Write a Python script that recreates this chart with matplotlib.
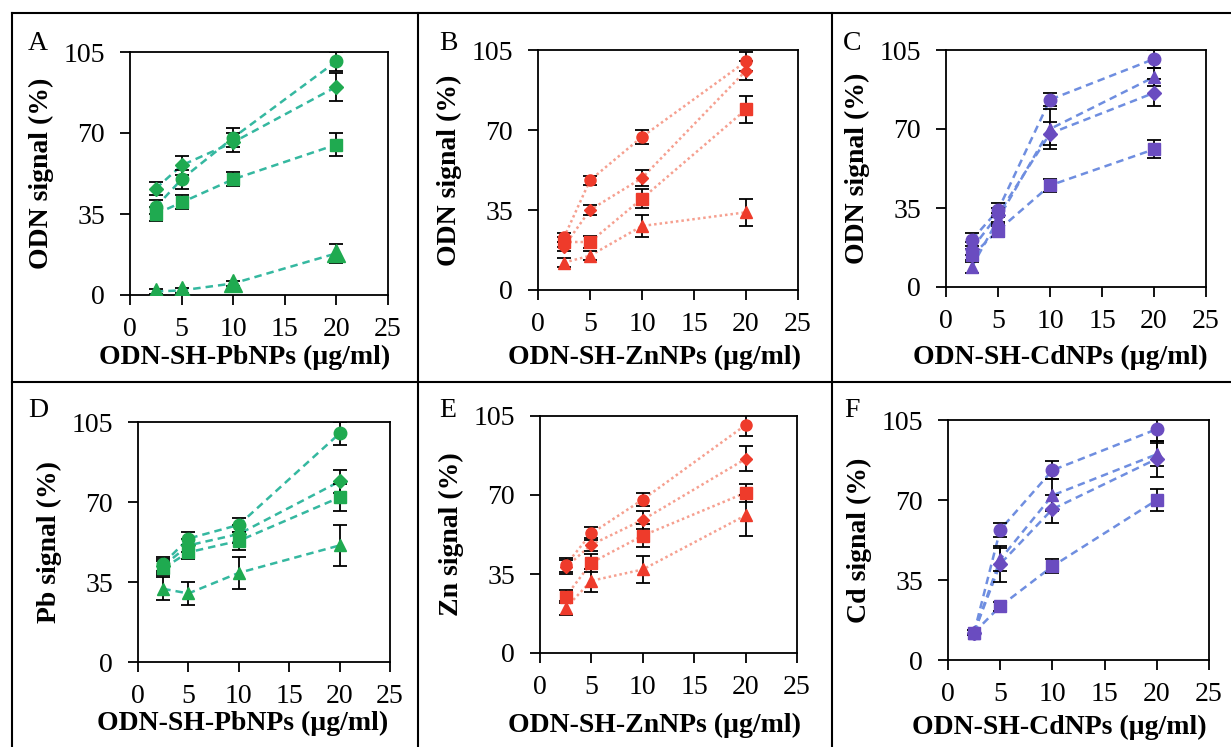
import matplotlib
matplotlib.use("Agg")
import matplotlib.pyplot as plt
from matplotlib.lines import Line2D

plt.rcParams['font.family'] = ['Liberation Serif', 'DejaVu Serif']

x = [2.5, 5, 10, 20]
markers = ['o', 'D', 's', '^']

# values per series: circle, diamond, square, triangle
a_vals = [[38, 50, 68, 101], [46, 56, 66, 90], [35, 40, 50, 65], [1.5, 2, 5, 18]]
a_errs = [[3, 4, 4, 4], [3, 4, 4, 6], [3, 3, 3, 5], [1, 1, 1, 4]]
b_vals = [[23, 48, 67, 100], [19, 35, 49, 96], [21, 21, 40, 79], [12, 15, 28, 34]]
b_errs = [[2, 2, 3, 4], [2, 2, 3.5, 4], [2, 2.5, 4, 6], [2, 2, 5, 6]]
c_vals = [[21, 34, 83, 101], [17, 32, 68, 86], [14, 25, 45, 61], [9, 30, 70, 93]]
c_errs = [[3, 3, 3, 4], [3, 3, 5, 6], [3, 3, 3, 4], [3, 3, 9, 4]]
d_vals = [[43, 54, 60, 100], [42, 51, 56, 79], [41, 48, 53, 72], [32, 30, 39, 51]]
d_errs = [[3, 3, 3, 5], [3, 3, 4, 5], [3, 3, 4, 6], [5, 5, 7, 9]]
e_vals = [[39, 53, 68, 101], [38, 48, 59, 86], [25, 40, 52, 71], [20, 32, 37, 61]]
e_errs = [[3, 3, 3, 5], [3, 3, 4, 5.5], [3, 4, 5, 4], [3, 5, 6, 9]]
f_vals = [[12, 57, 83, 101], [12, 42, 66, 88], [12, 23.5, 41, 70], [12, 44, 72, 90]]
f_errs = [[1, 3, 4, 5], [1, 8, 6, 8], [1, 2, 3, 5], [1, 5, 7, 5]]

xlabels = ['ODN-SH-PbNPs (µg/ml)', 'ODN-SH-ZnNPs (µg/ml)', 'ODN-SH-CdNPs (µg/ml)']
ylabels = ['ODN signal (%)', 'ODN signal (%)', 'ODN signal (%)',
           'Pb signal (%)', 'Zn signal (%)', 'Cd signal (%)']
letters = ['A', 'B', 'C', 'D', 'E', 'F']

green = ('#1faa50', '#35b8a0', (0, (3, 2)))
red = ('#ee3b2b', '#f6a090', (0, (1, 1.2)))
purple = ('#6a4cc0', '#6f8ee0', (0, (3, 2)))

W, H = 1231, 747
fig = plt.figure(figsize=(W / 100, H / 100), dpi=100)

# axes boxes in pixels: left, right, top, bottom
boxes = [(130, 388, 52, 295), (538, 798, 50, 290), (946, 1206, 50, 287),
         (138, 390, 422, 662), (540, 797, 416, 653), (948, 1209, 420, 660)]
# x label centres in pixels
xlab_pos = [(245, 357), (655, 357), (1060, 357), (243, 723), (654, 725), (1059, 727)]
panels = [(a_vals, a_errs, green), (b_vals, b_errs, red), (c_vals, c_errs, purple),
          (d_vals, d_errs, green), (e_vals, e_errs, red), (f_vals, f_errs, purple)]

for i, ((vals, errs, (mc, lc, ls)), (l, r, t, b)) in enumerate(zip(panels, boxes)):
    ax = fig.add_axes([l / W, 1 - b / H, (r - l) / W, (b - t) / H])
    for k in range(4):
        ms = 9
        if mc == red[0]:
            ms = 8
        if markers[k] == 'D':
            ms -= 1.5
        if i == 0 and k == 3:
            ms = 13
        ax.plot(x, vals[k], color=lc, linestyle=ls, linewidth=1.8, zorder=1)
        ax.errorbar(x, vals[k], yerr=errs[k], fmt='none', ecolor='black',
                    elinewidth=1.3, capsize=5, capthick=1.3, zorder=2)
        ax.plot(x, vals[k], linestyle='none', marker=markers[k], markersize=ms,
                color=mc, zorder=3)
    ax.set_xlim(0, 25)
    ax.set_ylim(0, 105)
    ax.set_xticks([0, 5, 10, 15, 20, 25])
    ax.set_yticks([0, 35, 70, 105])
    ax.tick_params(direction='out', length=7, width=1.3, labelsize=20)
    ax.tick_params(axis='x', pad=9)
    ax.tick_params(axis='y', pad=11)
    for s in ax.spines.values():
        s.set_linewidth(1.3)
    ax.set_xlabel(xlabels[i % 3], fontsize=20, fontweight='bold', va='center')
    xc, yc = xlab_pos[i]
    ax.xaxis.set_label_coords((xc - l) / (r - l), (b - yc) / (b - t))
    ax.set_ylabel(ylabels[i], fontsize=20, fontweight='bold', labelpad=7)
    lx = [38, 448, 852, 38, 448, 852][i]
    ly = [43, 43, 43, 410, 410, 410][i]
    fig.text(lx / W, 1 - ly / H, letters[i], fontsize=20, va='center', ha='center')

# panel frame lines
def fline(x0, y0, x1, y1):
    fig.add_artist(Line2D([x0 / W, x1 / W], [1 - y0 / H, 1 - y1 / H],
                          color='black', linewidth=1.5))

fline(12, 13, W, 13)
fline(12, 13, 12, H)
fline(418, 13, 418, H)
fline(832, 13, 832, H)
fline(12, 382, W, 382)

fig.savefig('out.png', dpi=100)
